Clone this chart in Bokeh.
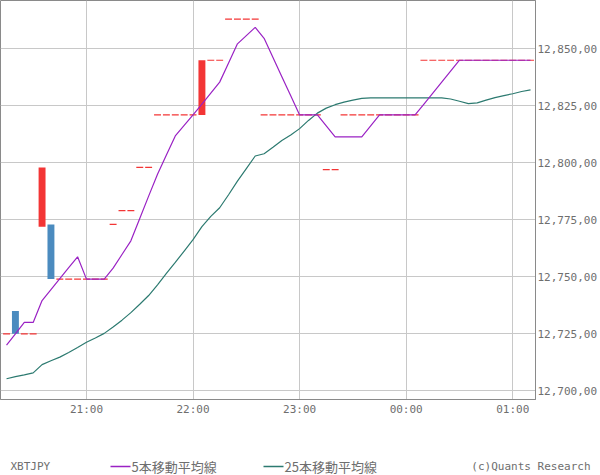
from bokeh.plotting import figure
from bokeh.models import ColumnDataSource, FixedTicker, Range1d
from bokeh.layouts import column
from bokeh.embed import file_html
from bokeh.resources import INLINE
from bokeh.core.properties import value

# ---- data (5-minute bars, first bar 20:15) ----
first_bar_min = 15      # minutes after 20:00
bar_step = 5
opens = ([12725, 12735, 12725, 12725, 12772, 12773]
         + [12749] * 6 + [12773] + [12779] * 2 + [12798] * 2 + [12821] * 5
         + [12821] + [12845] * 2 + [12863] * 4 + [12821] * 7 + [12797] * 2
         + [12821] * 9 + [12845] * 13)
closes = ([12725, 12725, 12725, 12725, 12798, 12749]
          + [12749] * 6 + [12773] + [12779] * 2 + [12798] * 2 + [12821] * 5
          + [12845] + [12845] * 2 + [12863] * 4 + [12821] * 7 + [12797] * 2
          + [12821] * 9 + [12845] * 13)
ma5 = [12720.0, 12725.0, 12730.0, 12730.0, 12739.6, 12744.4, 12749.2, 12754.0,
       12758.8, 12749.0, 12749.0, 12749.0, 12753.8, 12759.8, 12765.8, 12775.6,
       12785.4, 12795.0, 12803.4, 12811.8, 12816.4, 12821.0, 12825.8, 12830.6,
       12835.4, 12843.8, 12852.2, 12855.8, 12859.4, 12854.6, 12846.2, 12837.8,
       12829.4, 12821.0, 12821.0, 12821.0, 12816.2, 12811.4, 12811.4, 12811.4,
       12811.4, 12816.2, 12821.0, 12821.0, 12821.0, 12821.0, 12821.0, 12825.8,
       12830.6, 12835.4, 12840.2, 12845.0, 12845.0, 12845.0, 12845.0, 12845.0,
       12845.0, 12845.0, 12845.0, 12845.0]
ma25 = [12705.3, 12706.2, 12707.0, 12707.9, 12711.5, 12713.2, 12714.8, 12716.8,
        12719.0, 12721.3, 12723.2, 12725.2, 12728.0, 12731.0, 12734.3, 12738.0,
        12741.8, 12746.5, 12751.5, 12756.3, 12761.3, 12766.3, 12772.0, 12776.5,
        12780.3, 12786.0, 12792.0, 12797.5, 12803.0, 12804.0, 12806.8, 12809.8,
        12812.2, 12815.0, 12818.6, 12821.8, 12824.0, 12825.5, 12826.6, 12827.5,
        12828.3, 12828.5, 12828.5, 12828.5, 12828.5, 12828.5, 12828.5, 12828.5,
        12828.5, 12828.5, 12828.0, 12827.0, 12826.0, 12826.3, 12827.5, 12828.6,
        12829.5, 12830.3, 12831.3, 12832.0]
hour_ticks = [60, 120, 180, 240, 300]
hour_labels = ["21:00", "22:00", "23:00", "00:00", "01:00"]
price_ticks = [12700, 12725, 12750, 12775, 12800, 12825, 12850]
price_labels = ["12,700,00", "12,725,00", "12,750,00", "12,775,00",
                "12,800,00", "12,825,00", "12,850,00"]
symbol = "XBTJPY"
ma5_name = "5本移動平均線"
ma25_name = "25本移動平均線"
credit = "(c)Quants Research"

t = [first_bar_min + bar_step * i for i in range(len(opens))]

RED = "#f33535"
BLUE = "#4b8bbf"
PURPLE = "#9a22c4"
TEAL = "#2c7a70"
GRID = "#c8c8c8"
AXIS = "#8a8a8a"
TXT = "#6e6e6e"
MONO = "DejaVu Sans Mono"

p = figure(width=600, height=428, x_range=Range1d(11.6, 312.8),
           y_range=Range1d(12696.2, 12871.2), output_backend="svg",
           toolbar_location=None, y_axis_location="right",
           min_border_left=0, min_border_top=0, min_border_right=63,
           min_border_bottom=29, frame_align=False)
p.background_fill_color = "white"
p.border_fill_color = "white"
p.outline_line_color = AXIS

p.xaxis.ticker = FixedTicker(ticks=hour_ticks)
p.xaxis.major_label_overrides = dict(zip(hour_ticks, hour_labels))
p.yaxis.ticker = FixedTicker(ticks=price_ticks)
p.yaxis.major_label_overrides = dict(zip(price_ticks, price_labels))
for ax in (p.xaxis, p.yaxis):
    ax.major_tick_out = 0
    ax.major_tick_in = 0
    ax.minor_tick_out = 0
    ax.minor_tick_in = 0
    ax.axis_line_color = AXIS
    ax.major_label_text_font = MONO
    ax.major_label_text_font_size = "11px"
    ax.major_label_text_color = TXT
p.xaxis.major_label_standoff = 3
p.yaxis.major_label_standoff = 2
p.xgrid.grid_line_color = GRID
p.ygrid.grid_line_color = GRID

# candle bodies
body = dict(x=[], top=[], bottom=[], color=[])
doji = dict(x0=[], x1=[], y=[])
half = 1.95
for ti, o, c in zip(t, opens, closes):
    if o == c:
        doji["x0"].append(ti - half)
        doji["x1"].append(ti + half)
        doji["y"].append(o)
    else:
        body["x"].append(ti)
        body["top"].append(max(o, c))
        body["bottom"].append(min(o, c))
        body["color"].append(RED if c > o else BLUE)

p.vbar(x="x", top="top", bottom="bottom", width=2 * half, fill_color="color",
       line_color=None, source=ColumnDataSource(body))
p.segment(x0="x0", x1="x1", y0="y", y1="y", line_color=RED, line_width=1.2,
          source=ColumnDataSource(doji))

p.line(t, ma25, line_color=TEAL, line_width=1.2)
p.line(t, ma5, line_color=PURPLE, line_width=1.2)

# legend strip
q = figure(width=600, height=47, x_range=Range1d(0, 600), y_range=Range1d(0, 47),
           output_backend="svg", toolbar_location=None, min_border=0,
           x_axis_type=None, y_axis_type=None, frame_align=False)
q.outline_line_color = None
q.grid.visible = False
q.background_fill_color = "white"
q.border_fill_color = "white"
ly = 9
q.text(x=[10], y=[ly], text=[symbol], text_font=value(MONO), text_font_size="11px",
       text_baseline="middle", text_color=TXT)
q.line([110, 130], [ly, ly], line_color=PURPLE, line_width=1.5)
q.text(x=[131], y=[ly], text=[ma5_name], text_font=value("Noto Sans CJK JP"),
       text_font_size="13px", text_baseline="middle", text_color=TXT)
q.line([263, 283], [ly, ly], line_color=TEAL, line_width=1.5)
q.text(x=[284], y=[ly], text=[ma25_name], text_font=value("Noto Sans CJK JP"),
       text_font_size="13px", text_baseline="middle", text_color=TXT)
q.text(x=[590], y=[ly], text=[credit], text_font=value(MONO), text_font_size="11px",
       text_baseline="middle", text_align="right", text_color=TXT)

layout = column(p, q, spacing=0)
open("out.html", "w").write(file_html(layout, INLINE))
